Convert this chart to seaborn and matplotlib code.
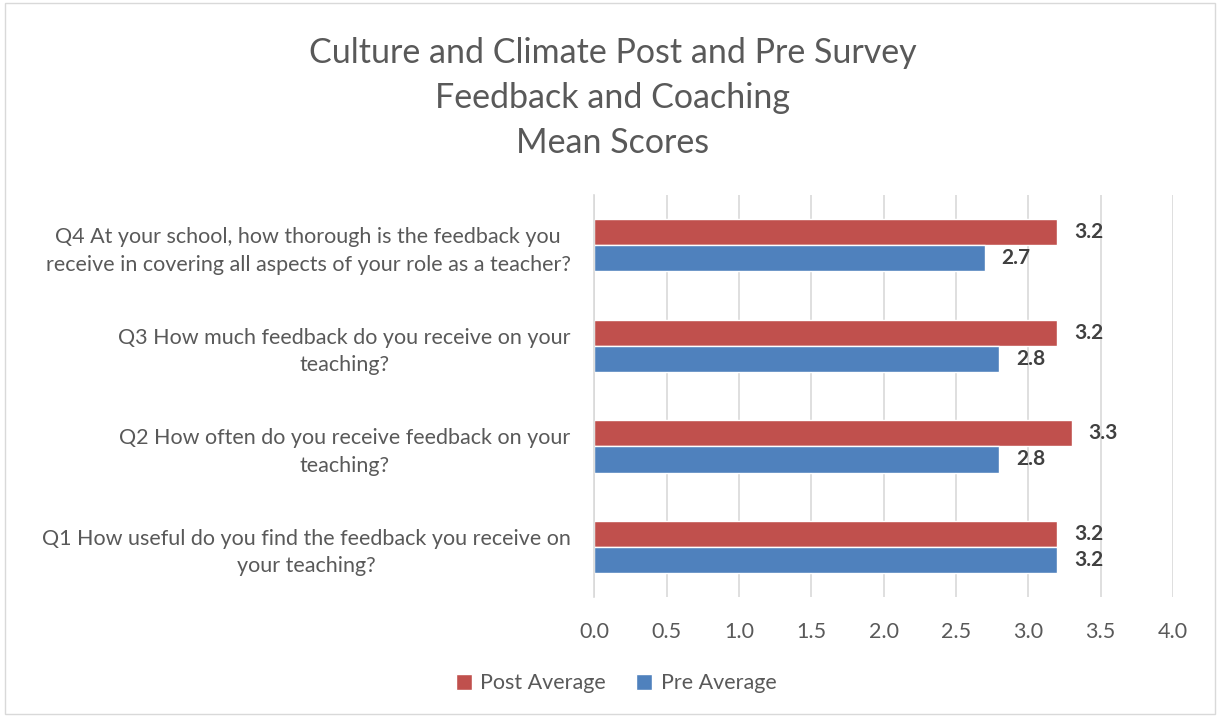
import numpy as np
import matplotlib
matplotlib.use("Agg")
import matplotlib.pyplot as plt
import seaborn as sns
import pandas as pd

questions = [
    "Q4 At your school, how thorough is the feedback you\nreceive in covering all aspects of your role as a teacher?",
    "Q3 How much feedback do you receive on your\nteaching?",
    "Q2 How often do you receive feedback on your\nteaching?",
    "Q1 How useful do you find the feedback you receive on\nyour teaching?",
]
post_avg = [3.2, 3.2, 3.3, 3.2]
pre_avg = [2.7, 2.8, 2.8, 3.2]
series = ["Post Average", "Pre Average"]
x_ticks = [0.0, 0.5, 1.0, 1.5, 2.0, 2.5, 3.0, 3.5, 4.0]

df = pd.DataFrame({
    "question": questions * 2,
    "value": post_avg + pre_avg,
    "series": [series[0]] * len(questions) + [series[1]] * len(questions),
})

sns.set_theme(style="white")
plt.rcParams["font.family"] = ["Lato", "DejaVu Sans"]
text_col = "#595959"

fig = plt.figure(figsize=(12.2, 7.17), dpi=100)
ax = fig.add_axes([0.487, 0.167, 0.4745, 0.561])

sns.barplot(data=df, y="question", x="value", hue="series", order=questions,
            hue_order=series, palette=["#C0504D", "#4F81BD"], orient="h",
            width=0.52, saturation=1, ax=ax, legend=True)

for cont in ax.containers:
    ax.bar_label(cont, fmt="%.1f", padding=12, fontsize=15, fontweight="bold",
                 color="#404040")

ax.set_xlim(0, 4.0)
ax.set_ylim(3.5, -0.5)
ax.set_xticks(x_ticks)
ax.set_xticklabels([f"{t:.1f}" for t in x_ticks])
ax.grid(axis="x", color="#D9D9D9", linewidth=1.2)
ax.grid(axis="y", visible=False)
ax.set_axisbelow(True)
for s in ["top", "right", "bottom"]:
    ax.spines[s].set_visible(False)
ax.spines["left"].set_color("#D9D9D9")
ax.spines["left"].set_linewidth(1.2)
ax.set_xlabel("")
ax.set_ylabel("")
ax.tick_params(axis="x", length=0, pad=18, labelsize=15.5, labelcolor=text_col)
ax.tick_params(axis="y", length=0, pad=17, labelsize=15.5, labelcolor=text_col)
for lab in ax.get_yticklabels():
    lab.set_multialignment("center")
    lab.set_linespacing(1.45)

ax.legend_.remove()
handles, labels = ax.get_legend_handles_labels()
fig.legend(handles[:2], labels[:2], loc="center", bbox_to_anchor=(0.505, 0.047),
           ncol=2, frameon=False, fontsize=15.5, labelcolor=text_col,
           handlelength=0.75, handleheight=0.75, handletextpad=0.4, columnspacing=1.4)

fig.text(0.502, 0.863, "Culture and Climate Post and Pre Survey\nFeedback and Coaching\nMean Scores",
         ha="center", va="center", fontsize=24.5, color=text_col, linespacing=1.5)

fig.patches.append(plt.Rectangle((0.004, 0.004), 0.992, 0.992, transform=fig.transFigure,
                                 fill=False, edgecolor="#D9D9D9", linewidth=1))

fig.savefig("out.png", dpi=100)
